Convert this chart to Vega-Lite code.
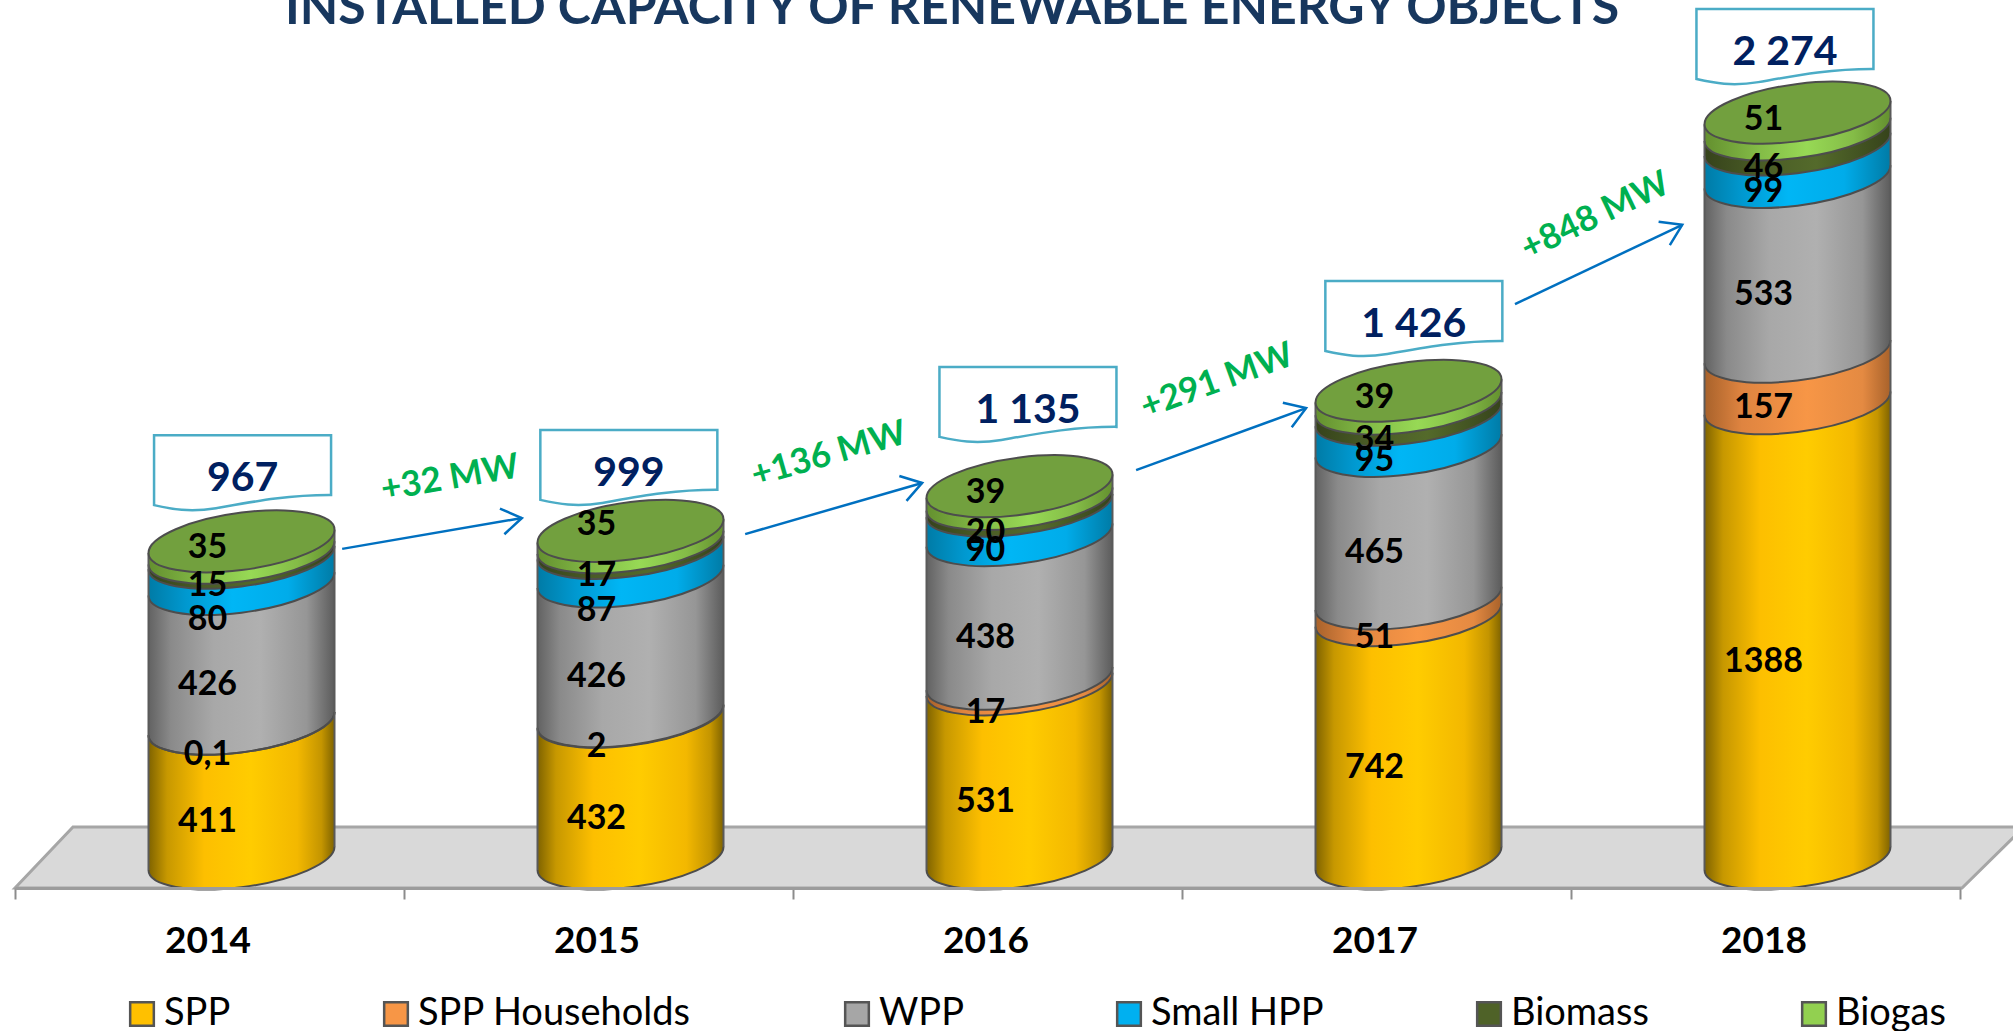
{"$schema":"https://vega.github.io/schema/vega-lite/v6.json","width":1945,"height":888,"autosize":{"type":"none"},"padding":{"left":15,"top":0,"right":53,"bottom":143},"background":"white","config":{"view":{"stroke":null},"font":"Lato"},
"datasets":{
"energy":[
{"year":"2014","series":"SPP","rank":1,"value":411},{"year":"2014","series":"SPP Households","rank":2,"value":0.1},{"year":"2014","series":"WPP","rank":3,"value":426},{"year":"2014","series":"Small HPP","rank":4,"value":80},{"year":"2014","series":"Biomass","rank":5,"value":15},{"year":"2014","series":"Biogas","rank":6,"value":35},
{"year":"2015","series":"SPP","rank":1,"value":432},{"year":"2015","series":"SPP Households","rank":2,"value":2},{"year":"2015","series":"WPP","rank":3,"value":426},{"year":"2015","series":"Small HPP","rank":4,"value":87},{"year":"2015","series":"Biomass","rank":5,"value":17},{"year":"2015","series":"Biogas","rank":6,"value":35},
{"year":"2016","series":"SPP","rank":1,"value":531},{"year":"2016","series":"SPP Households","rank":2,"value":17},{"year":"2016","series":"WPP","rank":3,"value":438},{"year":"2016","series":"Small HPP","rank":4,"value":90},{"year":"2016","series":"Biomass","rank":5,"value":20},{"year":"2016","series":"Biogas","rank":6,"value":39},
{"year":"2017","series":"SPP","rank":1,"value":742},{"year":"2017","series":"SPP Households","rank":2,"value":51},{"year":"2017","series":"WPP","rank":3,"value":465},{"year":"2017","series":"Small HPP","rank":4,"value":95},{"year":"2017","series":"Biomass","rank":5,"value":34},{"year":"2017","series":"Biogas","rank":6,"value":39},
{"year":"2018","series":"SPP","rank":1,"value":1388},{"year":"2018","series":"SPP Households","rank":2,"value":157},{"year":"2018","series":"WPP","rank":3,"value":533},{"year":"2018","series":"Small HPP","rank":4,"value":99},{"year":"2018","series":"Biomass","rank":5,"value":46},{"year":"2018","series":"Biogas","rank":6,"value":51}],
"totals":[{"year":"2014","base":0,"total":967},{"year":"2015","base":0,"total":999},{"year":"2016","base":0,"total":1135},{"year":"2017","base":0,"total":1426},{"year":"2018","base":0,"total":2274}],
"callouts":[{"at":2014.085,"level":1184,"label":"967"},{"at":2015.078,"level":1200,"label":"999"},{"at":2016.104,"level":1392,"label":"1 135"},{"at":2017.096,"level":1654,"label":"1 426"},{"at":2018.05,"level":2483,"label":"2 274"}],
"arrows":[{"at":2014.341,"to":2014.803,"level":944,"levelTo":1038,"tilt":-9.8},{"at":2015.377,"to":2015.832,"level":989,"levelTo":1145,"tilt":-16},{"at":2016.382,"to":2016.819,"level":1184,"levelTo":1373,"tilt":-20},{"at":2017.356,"to":2017.786,"level":1690,"levelTo":1932,"tilt":-25.6}],
"changes":[{"at":2014.618,"level":1160,"tilt":-9.8,"label":"+32 MW"},{"at":2015.592,"level":1233,"tilt":-16,"label":"+136 MW"},{"at":2016.59,"level":1456,"tilt":-20,"label":"+291 MW"},{"at":2017.562,"level":1959,"tilt":-25.6,"label":"+848 MW"}]
},
"layer":[
{"encoding":{"x":{"field":"year","type":"nominal","scale":{"domain":["2014","2015","2016","2017","2018"],"paddingInner":0,"paddingOuter":0},"axis":{"title":null,"labelAngle":0,"tickBand":"extent","domainColor":"#9c9c9c","domainWidth":3,"tickColor":"#8c8c8c","tickWidth":2,"tickSize":11,"labelFont":"Lato","labelFontWeight":"bold","labelFontSize":37,"labelColor":"#000000","labelPadding":24,"labelOffset":-2,"zindex":1}}},
"layer":[
{"data":{"values":[{"year":"2016"}]},"mark":{"type":"point","shape":"M-.9725,.0305 L-.9145,-.0305 L1.0365,-.0305 L.9745,.0305 Z","size":4000000,"filled":true,"fill":"#d9d9d9","stroke":"#a6a6a6","strokeWidth":3,"opacity":1},"encoding":{"y":{"datum":3,"type":"quantitative","scale":{"domain":[-90,2617.4]},"axis":null}}},
{"data":{"name":"energy"},"transform":[{"stack":"value","groupby":["year"],"sort":[{"field":"rank","order":"ascending"}],"as":["y0","y1"]}],
"encoding":{"y":{"field":"y0","type":"quantitative","scale":{"domain":[-90,2617.4]},"axis":null}},
"layer":[
{"mark":{"type":"bar","width":186,"xOffset":32,"opacity":0},"encoding":{"y2":{"field":"y1"},"color":{"field":"series","type":"nominal","scale":{"domain":["SPP","SPP Households","WPP","Small HPP","Biomass","Biogas"],"range":["#ffc000","#f79646","#a6a6a6","#00b0f0","#4f6228","#92d050"]},"legend":{"title":null,"orient":"none","legendX":108,"legendY":995,"direction":"horizontal","columns":6,"gridAlign":"each","columnPadding":146,"labelFont":"Lato","labelFontSize":38,"labelColor":"#000000","labelOffset":3,"labelLimit":400,"symbolType":"square","symbolSize":560,"symbolOpacity":1,"symbolStrokeColor":"#555555","symbolStrokeWidth":2.5,"padding":0}}}},
{"transform":[{"filter":"datum.series==='SPP'"}],"layer":[
{"mark":{"type":"bar","width":186,"xOffset":32,"yOffset":-11.6,"y2Offset":-11.6,"fill":{"gradient":"linear","x1":0,"y1":0,"x2":1,"y2":0,"stops":[{"offset":0,"color":"#7f6300"},{"offset":0.1,"color":"#c79800"},{"offset":0.3,"color":"#fdbf00"},{"offset":0.55,"color":"#ffcc00"},{"offset":0.8,"color":"#f3b800"},{"offset":0.93,"color":"#c49500"},{"offset":1,"color":"#7f6300"}]}},"encoding":{"y2":{"field":"y1"}}},
{"mark":{"type":"point","shape":"M1,-.14 L1,-.125 C1,.0457 .5523,.24 0,.309 C-.5523,.378 -1,.2957 -1,.125 L-1,-.14 Z","size":34596,"xOffset":32,"filled":true,"opacity":1,"fill":{"gradient":"linear","x1":0,"y1":0,"x2":1,"y2":0,"stops":[{"offset":0,"color":"#7f6300"},{"offset":0.1,"color":"#c79800"},{"offset":0.3,"color":"#fdbf00"},{"offset":0.55,"color":"#ffcc00"},{"offset":0.8,"color":"#f3b800"},{"offset":0.93,"color":"#c49500"},{"offset":1,"color":"#7f6300"}]}}}]},
{"transform":[{"filter":"datum.series==='SPP Households'"}],"layer":[
{"mark":{"type":"bar","width":186,"xOffset":32,"yOffset":-11.6,"y2Offset":-11.6,"fill":{"gradient":"linear","x1":0,"y1":0,"x2":1,"y2":0,"stops":[{"offset":0,"color":"#a8622b"},{"offset":0.2,"color":"#df8440"},{"offset":0.55,"color":"#f79646"},{"offset":0.85,"color":"#e48a42"},{"offset":1,"color":"#a8622b"}]}},"encoding":{"y2":{"field":"y1"}}},
{"mark":{"type":"point","shape":"M1,-.14 L1,-.125 C1,.0457 .5523,.24 0,.309 C-.5523,.378 -1,.2957 -1,.125 L-1,-.14 Z","size":34596,"xOffset":32,"filled":true,"opacity":1,"fill":{"gradient":"linear","x1":0,"y1":0,"x2":1,"y2":0,"stops":[{"offset":0,"color":"#a8622b"},{"offset":0.2,"color":"#df8440"},{"offset":0.55,"color":"#f79646"},{"offset":0.85,"color":"#e48a42"},{"offset":1,"color":"#a8622b"}]}}}]},
{"transform":[{"filter":"datum.series==='WPP'"}],"layer":[
{"mark":{"type":"bar","width":186,"xOffset":32,"yOffset":-11.6,"y2Offset":-11.6,"fill":{"gradient":"linear","x1":0,"y1":0,"x2":1,"y2":0,"stops":[{"offset":0,"color":"#626262"},{"offset":0.12,"color":"#8a8a8a"},{"offset":0.35,"color":"#a8a8a8"},{"offset":0.6,"color":"#b0b0b0"},{"offset":0.85,"color":"#969696"},{"offset":1,"color":"#5c5c5c"}]}},"encoding":{"y2":{"field":"y1"}}},
{"mark":{"type":"point","shape":"M1,-.14 L1,-.125 C1,.0457 .5523,.24 0,.309 C-.5523,.378 -1,.2957 -1,.125 L-1,-.14 Z","size":34596,"xOffset":32,"filled":true,"opacity":1,"fill":{"gradient":"linear","x1":0,"y1":0,"x2":1,"y2":0,"stops":[{"offset":0,"color":"#626262"},{"offset":0.12,"color":"#8a8a8a"},{"offset":0.35,"color":"#a8a8a8"},{"offset":0.6,"color":"#b0b0b0"},{"offset":0.85,"color":"#969696"},{"offset":1,"color":"#5c5c5c"}]}}}]},
{"transform":[{"filter":"datum.series==='Small HPP'"}],"layer":[
{"mark":{"type":"bar","width":186,"xOffset":32,"yOffset":-11.6,"y2Offset":-11.6,"fill":{"gradient":"linear","x1":0,"y1":0,"x2":1,"y2":0,"stops":[{"offset":0,"color":"#007ba6"},{"offset":0.2,"color":"#0098cf"},{"offset":0.45,"color":"#00b6f5"},{"offset":0.75,"color":"#00acea"},{"offset":1,"color":"#007ba6"}]}},"encoding":{"y2":{"field":"y1"}}},
{"mark":{"type":"point","shape":"M1,-.14 L1,-.125 C1,.0457 .5523,.24 0,.309 C-.5523,.378 -1,.2957 -1,.125 L-1,-.14 Z","size":34596,"xOffset":32,"filled":true,"opacity":1,"fill":{"gradient":"linear","x1":0,"y1":0,"x2":1,"y2":0,"stops":[{"offset":0,"color":"#007ba6"},{"offset":0.2,"color":"#0098cf"},{"offset":0.45,"color":"#00b6f5"},{"offset":0.75,"color":"#00acea"},{"offset":1,"color":"#007ba6"}]}}}]},
{"transform":[{"filter":"datum.series==='Biomass'"}],"layer":[
{"mark":{"type":"bar","width":186,"xOffset":32,"yOffset":-11.6,"y2Offset":-11.6,"fill":{"gradient":"linear","x1":0,"y1":0,"x2":1,"y2":0,"stops":[{"offset":0,"color":"#36431b"},{"offset":0.3,"color":"#4a5c26"},{"offset":0.6,"color":"#546a2b"},{"offset":1,"color":"#36431b"}]}},"encoding":{"y2":{"field":"y1"}}},
{"mark":{"type":"point","shape":"M1,-.14 L1,-.125 C1,.0457 .5523,.24 0,.309 C-.5523,.378 -1,.2957 -1,.125 L-1,-.14 Z","size":34596,"xOffset":32,"filled":true,"opacity":1,"fill":{"gradient":"linear","x1":0,"y1":0,"x2":1,"y2":0,"stops":[{"offset":0,"color":"#36431b"},{"offset":0.3,"color":"#4a5c26"},{"offset":0.6,"color":"#546a2b"},{"offset":1,"color":"#36431b"}]}}}]},
{"transform":[{"filter":"datum.series==='Biogas'"}],"layer":[
{"mark":{"type":"bar","width":186,"xOffset":32,"yOffset":-11.6,"y2Offset":-11.6,"fill":{"gradient":"linear","x1":0,"y1":0,"x2":1,"y2":0,"stops":[{"offset":0,"color":"#64902f"},{"offset":0.3,"color":"#84bc47"},{"offset":0.55,"color":"#97d955"},{"offset":0.8,"color":"#84bc47"},{"offset":1,"color":"#64902f"}]}},"encoding":{"y2":{"field":"y1"}}},
{"mark":{"type":"point","shape":"M1,-.14 L1,-.125 C1,.0457 .5523,.24 0,.309 C-.5523,.378 -1,.2957 -1,.125 L-1,-.14 Z","size":34596,"xOffset":32,"filled":true,"opacity":1,"fill":{"gradient":"linear","x1":0,"y1":0,"x2":1,"y2":0,"stops":[{"offset":0,"color":"#64902f"},{"offset":0.3,"color":"#84bc47"},{"offset":0.55,"color":"#97d955"},{"offset":0.8,"color":"#84bc47"},{"offset":1,"color":"#64902f"}]}}}]},
{"mark":{"type":"point","shape":"M1,-.125 C1,.0457 .5523,.24 0,.309 C-.5523,.378 -1,.2957 -1,.125","size":34596,"xOffset":32,"filled":false,"fillOpacity":0,"opacity":1,"stroke":"#4d4d4d","strokeWidth":2}}
]},
{"data":{"name":"totals"},"encoding":{"y":{"field":"total","type":"quantitative","scale":{"domain":[-90,2617.4]},"axis":null}},"layer":[
{"mark":{"type":"rule","xOffset":-61,"yOffset":11.6,"y2Offset":11.6,"stroke":"#5a5a5a","strokeWidth":2},"encoding":{"y2":{"field":"base"}}},
{"mark":{"type":"rule","xOffset":125,"yOffset":-11.6,"y2Offset":-11.6,"stroke":"#5a5a5a","strokeWidth":2},"encoding":{"y2":{"field":"base"}}},
{"mark":{"type":"point","shape":"M-1.03,-.16 L-1.03,.125 L-1.012,.125 L-.5,-.16 Z","size":34596,"xOffset":32,"filled":true,"fill":"white","opacity":1}},
{"mark":{"type":"point","shape":"M1,-.125 C1,.0457 .5523,.24 0,.309 C-.5523,.378 -1,.2957 -1,.125 C-1,-.0457 -.5523,-.24 0,-.309 C.5523,-.378 1,-.2957 1,-.125 Z","size":34596,"xOffset":32,"filled":true,"fill":"#72a03e","stroke":"#4d4d4d","strokeWidth":2,"opacity":1}}
]},
{"data":{"name":"energy"},"transform":[{"stack":"value","groupby":["year"],"sort":[{"field":"rank","order":"ascending"}],"as":["y0","y1"]},{"calculate":"(datum.y0+datum.y1)/2","as":"mid"},{"calculate":"replace(toString(datum.value),'.',',')","as":"shown"}],
"encoding":{"text":{"field":"shown","type":"nominal"},"y":{"field":"mid","type":"quantitative","scale":{"domain":[-90,2617.4]},"axis":null}},
"layer":[
{"transform":[{"filter":"datum.series!=='Biogas' && !(datum.series==='Small HPP' && datum.year<'2016')"}],"mark":{"type":"text","font":"Lato","fontWeight":"bold","fontSize":34,"color":"#000000","baseline":"middle","align":"center","xOffset":-2,"yOffset":31}},
{"transform":[{"filter":"datum.series==='Small HPP' && datum.year<'2016'"}],"mark":{"type":"text","font":"Lato","fontWeight":"bold","fontSize":34,"color":"#000000","baseline":"middle","align":"center","xOffset":-2,"yOffset":49}},
{"transform":[{"filter":"datum.series==='Biogas' && datum.year!=='2015'"}],"mark":{"type":"text","font":"Lato","fontWeight":"bold","fontSize":34,"color":"#000000","baseline":"middle","align":"center","xOffset":-2,"yOffset":7},"encoding":{"y":{"field":"y1","type":"quantitative","scale":{"domain":[-90,2617.4]},"axis":null}}},
{"transform":[{"filter":"datum.series==='Biogas' && datum.year==='2015'"}],"mark":{"type":"text","font":"Lato","fontWeight":"bold","fontSize":34,"color":"#000000","baseline":"middle","align":"center","xOffset":-2,"yOffset":-6},"encoding":{"y":{"field":"y1","type":"quantitative","scale":{"domain":[-90,2617.4]},"axis":null}}}
]}
]},
{"layer":[
{"data":{"name":"callouts"},"encoding":{"x":{"field":"at","type":"quantitative","scale":{"domain":[2013.5,2018.5]},"axis":null},"y":{"field":"level","type":"quantitative","scale":{"domain":[-90,2617.4]},"axis":null}},"layer":[
{"mark":{"type":"point","shape":"M-1,-.395 L1,-.395 L1,.282 C.5,.28 .1,.36 -.3,.43 C-.6,.48 -.8,.44 -1,.395 Z","size":31329,"filled":true,"fill":"white","stroke":"#4bacc6","strokeWidth":2.5,"opacity":1}},
{"mark":{"type":"text","font":"Lato","fontWeight":"bold","fontSize":41,"color":"#002060","baseline":"middle","align":"center","yOffset":9},"encoding":{"text":{"field":"label","type":"nominal"}}}
]},
{"data":{"name":"arrows"},"layer":[
{"mark":{"type":"rule","stroke":"#0070c0","strokeWidth":2.5},"encoding":{"x":{"field":"at","type":"quantitative","scale":{"domain":[2013.5,2018.5]},"axis":null},"x2":{"field":"to"},"y":{"field":"level","type":"quantitative","scale":{"domain":[-90,2617.4]},"axis":null},"y2":{"field":"levelTo"}}},
{"mark":{"type":"point","shape":"M-1,-.65 L0,0 L-1,.65","size":1600,"filled":false,"fillOpacity":0,"opacity":1,"stroke":"#0070c0","strokeWidth":2.5},"encoding":{"x":{"field":"to","type":"quantitative","scale":{"domain":[2013.5,2018.5]},"axis":null},"y":{"field":"levelTo","type":"quantitative","scale":{"domain":[-90,2617.4]},"axis":null},"angle":{"field":"tilt","type":"quantitative","scale":null}}}
]},
{"data":{"name":"changes"},"mark":{"type":"text","font":"Lato","fontWeight":"bold","fontSize":35,"color":"#00b050","baseline":"middle","align":"center"},"encoding":{"x":{"field":"at","type":"quantitative","scale":{"domain":[2013.5,2018.5]},"axis":null},"y":{"field":"level","type":"quantitative","scale":{"domain":[-90,2617.4]},"axis":null},"text":{"field":"label","type":"nominal"},"angle":{"field":"tilt","type":"quantitative","scale":null}}},
{"data":{"values":[{"at":2015.909,"level":2544,"label":"INSTALLED CAPACITY OF RENEWABLE ENERGY OBJECTS"}]},"mark":{"type":"text","font":"Lato","fontWeight":"bold","fontSize":50,"color":"#17375e","baseline":"alphabetic","align":"center"},"encoding":{"x":{"field":"at","type":"quantitative","scale":{"domain":[2013.5,2018.5]},"axis":null},"y":{"field":"level","type":"quantitative","scale":{"domain":[-90,2617.4]},"axis":null},"text":{"field":"label","type":"nominal"}}}
]}
],
"resolve":{"scale":{"x":"independent"}}}
